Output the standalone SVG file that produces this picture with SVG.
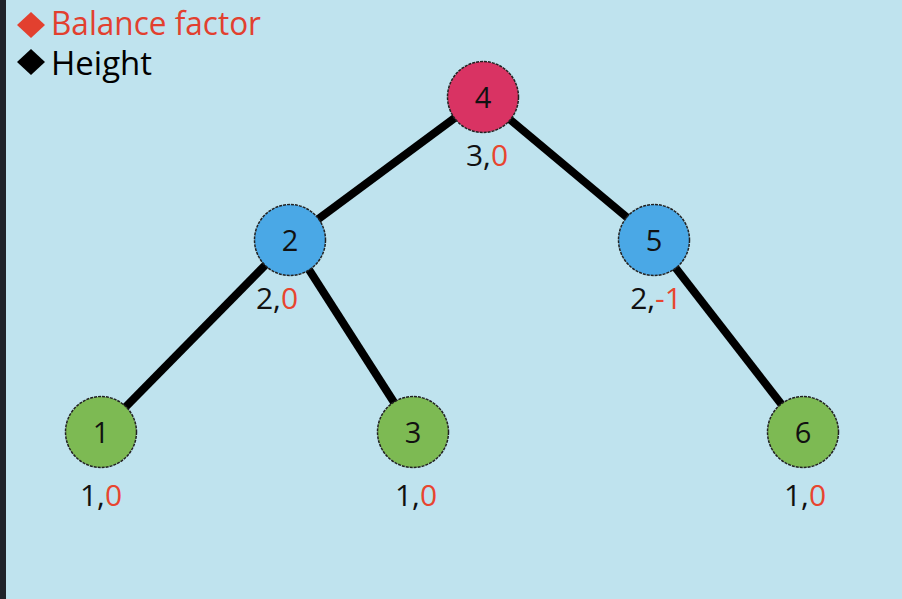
<svg xmlns="http://www.w3.org/2000/svg" width="902" height="599" viewBox="0 0 902 599">
<style>
.edge{stroke:#000;stroke-width:8;stroke-linecap:butt}
.node circle{stroke:#222;stroke-width:1.5;stroke-dasharray:3 1}
.num{font-family:"Open Sans","Liberation Sans",sans-serif;font-size:29px;fill:#111;text-anchor:middle}
.lab{font-family:"Open Sans","Liberation Sans",sans-serif;font-size:30px;fill:#111;text-anchor:middle}
.bf{fill:#e8452f}
.leg{font-family:"Open Sans","Liberation Sans",sans-serif;font-size:32px}
</style>
<rect width="902" height="599" fill="#bfe3ee"/>
<rect x="0" y="0" width="6" height="599" fill="#1f2229"/>
<g id="legend">
<polygon points="31,12 45,25 31,38 17,25" fill="#e2402f"/>
<text class="leg" x="51" y="35" fill="#e2402f" textLength="210" lengthAdjust="spacingAndGlyphs">Balance factor</text>
<polygon points="31,49 45,62 31,75 17,62" fill="#000"/>
<text class="leg" x="51" y="75" fill="#000" textLength="101" lengthAdjust="spacingAndGlyphs">Height</text>
</g>
<g id="connectors">
<line class="edge" x1="483" y1="97" x2="290" y2="240"/>
<line class="edge" x1="483" y1="97" x2="654" y2="240"/>
<line class="edge" x1="290" y1="240" x2="101" y2="432"/>
<line class="edge" x1="290" y1="240" x2="413" y2="432"/>
<line class="edge" x1="654" y1="240" x2="803" y2="432"/>
</g>
<g id="node4" class="node">
<circle cx="483" cy="97" r="35.5" fill="#d93363"/>
<text class="num" x="483" y="108">4</text>
<text class="lab" x="487" y="166">3,<tspan class="bf">0</tspan></text>
</g>
<g id="node2" class="node">
<circle cx="290" cy="240" r="35.5" fill="#4aa8e6"/>
<text class="num" x="290" y="251">2</text>
<text class="lab" x="277" y="309">2,<tspan class="bf">0</tspan></text>
</g>
<g id="node5" class="node">
<circle cx="654" cy="240" r="35.5" fill="#4aa8e6"/>
<text class="num" x="654" y="251">5</text>
<text class="lab" x="656" y="309">2,<tspan class="bf">-1</tspan></text>
</g>
<g id="node1" class="node">
<circle cx="101" cy="432" r="35.5" fill="#7dba53"/>
<text class="num" x="101" y="443">1</text>
<text class="lab" x="101" y="506">1,<tspan class="bf">0</tspan></text>
</g>
<g id="node3" class="node">
<circle cx="413" cy="432" r="35.5" fill="#7dba53"/>
<text class="num" x="413" y="443">3</text>
<text class="lab" x="416" y="506">1,<tspan class="bf">0</tspan></text>
</g>
<g id="node6" class="node">
<circle cx="803" cy="432" r="35.5" fill="#7dba53"/>
<text class="num" x="803" y="443">6</text>
<text class="lab" x="805" y="506">1,<tspan class="bf">0</tspan></text>
</g>
</svg>
